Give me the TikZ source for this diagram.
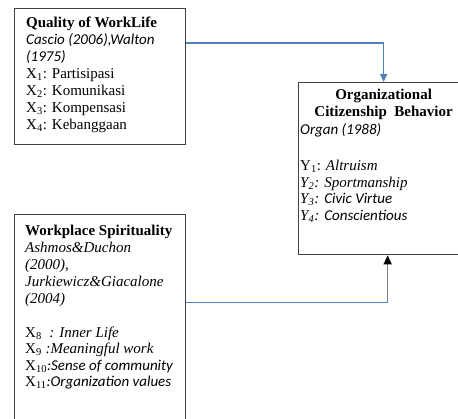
\documentclass[tikz,border=0pt]{standalone}
\usepackage{fontspec}
\setmainfont{Liberation Serif}
\newfontfamily\calfont{Carlito}
\usetikzlibrary{arrows.meta}
\definecolor{linkblue}{RGB}{79,129,189}
\definecolor{boxgray}{RGB}{64,64,64}
\definecolor{stemgray}{RGB}{128,128,128}
\begin{document}
\begin{tikzpicture}[x=1pt, y=-1pt,
  box/.style={rectangle, draw=boxgray, line width=1.3pt, anchor=north west, inner sep=0pt},
  txt/.style={align=left, inner sep=0pt, font=\fontsize{15}{17}\selectfont},
  link/.style={draw=linkblue, line width=1.4pt, -{Triangle[width=7pt,length=8pt]}},
  feed/.style={draw=linkblue, line width=0.8pt},
  stem/.style={draw=stemgray, line width=1.4pt, -{Triangle[width=8pt,length=9pt,color=black]}}
]
  \useasboundingbox (0,0) rectangle (458,419);
  \clip (0,0) rectangle (458,419);

  % Kotak variabel
  \node[box, minimum width=171pt, minimum height=136pt] (qwl) at (14,8) {};
  \node[box, minimum width=171pt, minimum height=230pt] (ws) at (14,214) {};
  \node[box, minimum width=170pt, minimum height=172pt] (ocb) at (298,82) {};

  % Isi X
  \node[txt, anchor=north west] (qwltext) at ([xshift=12pt,yshift=-8.5pt]qwl.north west) {%
    \textbf{Quality of WorkLife}\\
    {\calfont\itshape Cascio (2006),Walton}\\
    {\calfont\itshape (1975)}\\
    X\textsubscript{1}: Partisipasi\\
    X\textsubscript{2}: Komunikasi\\
    X\textsubscript{3}: Kompensasi\\
    X\textsubscript{4}: Kebanggaan};
  \node[txt, anchor=north west] (wstext) at ([xshift=11pt,yshift=-10.4pt]ws.north west) {%
    \textbf{Workplace Spirituality}\\
    \textit{Ashmos\&Duchon}\\
    \textit{(2000),}\\
    \textit{Jurkiewicz\&Giacalone}\\
    \textit{(2004)}\\[17pt]
    X\textsubscript{8}\ \ \textit{: Inner Life}\\[-0.5pt]
    X\textsubscript{9}\ \textit{:Meaningful work}\\[-0.5pt]
    X\textsubscript{10}{\calfont\itshape :Sense of community}\\[-0.5pt]
    X\textsubscript{11}{\calfont\itshape :Organization values}};

  % Isi Y
  \node[txt, align=center, anchor=north] (ocbtitle) at ([yshift=-7.3pt]ocb.north) {%
    \textbf{Organizational}\\
    \textbf{Citizenship\ \ Behavior}};
  \node[txt, anchor=north west] (ocbtext) at ([xshift=2pt,yshift=-41.4pt]ocb.north west) {%
    {\calfont\itshape Organ (1988)}\\[19pt]
    Y\textsubscript{1}: \textit{Altruism}\\[-0.5pt]
    \textit{Y\textsubscript{2}: Sportmanship}\\[-0.5pt]
    \textit{Y\textsubscript{3}:} {\calfont\itshape Civic Virtue}\\[-0.5pt]
    \textit{Y\textsubscript{4}:} {\calfont\itshape Conscientious}};

  % Panah
  \draw[link] ([yshift=-35pt]qwl.north east) -| (ocb.north);
  \path (ws.north east) ++(0,88) coordinate (wsout);
  \path (ocb.south) ++(4,0) coordinate (ocbin);
  \draw[feed] (wsout) -- (wsout -| ocbin) coordinate (bend);
  \draw[stem] (bend) -- (ocbin);
\end{tikzpicture}
\end{document}
